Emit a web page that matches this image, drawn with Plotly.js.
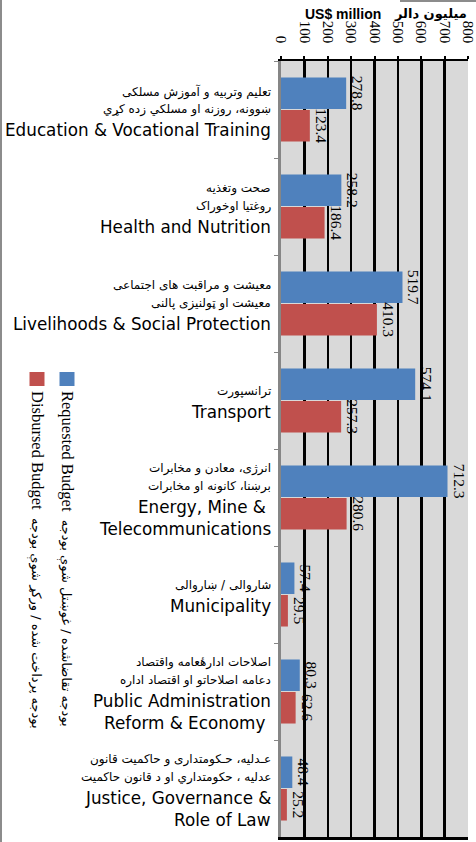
<!DOCTYPE html>
<html><head><meta charset="utf-8">
<script src="https://cdn.plot.ly/plotly-3.0.1.min.js"></script>
<style>html,body{margin:0;padding:0;background:#fff}#chart{width:476px;height:842px}</style>
</head><body><div id="chart"></div>
<script>
// ---- data ----
var categories = ["Education", "Health", "Livelihoods", "Transport", "Energy", "Municipality", "PublicAdmin", "Justice"];
var requested = [278.8, 258.2, 519.7, 574.1, 712.3, 57.4, 80.3, 48.4];
var disbursed = [123.4, 186.4, 410.3, 257.3, 280.6, 29.5, 62.6, 25.2];
var faLines = [
  ["تعلیم وتربیه و آموزش مسلکی", "ښوونه، روزنه او مسلکي زده کړي"],
  ["صحت وتغذیه", "روغتیا اوخوراک"],
  ["معیشت و مراقبت های اجتماعی", "معیشت او ټولنیزی پالنی"],
  ["ترانسپورت"],
  ["انرژی، معادن و مخابرات", "برښنا، کانونه او مخابرات"],
  ["شاروالی / ښاروالی"],
  ["اصلاحات ادارهٔعامه واقتصاد", "دعامه اصلاحاتو او اقتصاد اداره"],
  ["عـدلیه، حـکومتداری و حاکمیت قانون", "عدلیه ، حکومتداري او د قانون حاکمیت"]
];
var enLines = [
  ["Education & Vocational Training"],
  ["Health and Nutrition"],
  ["Livelihoods & Social Protection"],
  ["Transport"],
  ["Energy, Mine & ", "Telecommunications"],
  ["Municipality"],
  ["Public Administration", "Reform & Economy "],
  ["Justice, Governance &", "Role of Law"]
];
var seriesNames = ["Requested Budget", "Disbursed Budget"];
var seriesNamesFa = ["بودجه تقاضاشده / غوښتل شوې بودجه", "بودجه پرداخت شده / ورکړ شوې بودجه"];
var axisTitleEn = "US$ million";
var axisTitleFa = "میلیون دالر";
var colors = ["#4f81bd", "#c0504d"];

var W = 476, H = 842;
var mL = 281, mR = 8, mT = 61, mB = 5;
var pw = W - mL - mR, ph = H - mT - mB;
function px2x(p){ return (p - mL) / pw; }
function py2y(p){ return 1 - (p - mT) / ph; }

var serif = "Liberation Serif, Times New Roman, serif";
var sans = "DejaVu Sans, Verdana, sans-serif";

function barTrace(vals, i){
  return {
    type: "bar", orientation: "h",
    y: categories, x: vals, name: seriesNames[i],
    marker: {color: colors[i]},
    text: vals.map(function(v){ return v.toFixed(1); }),
    textposition: "outside", textangle: 90, constraintext: "none", cliponaxis: false,
    textfont: {family: serif, size: 15.5, color: "#000"},
    hoverinfo: "none", showlegend: false
  };
}
var data = [barTrace(requested, 0), barTrace(disbursed, 1)];

var annotations = [];
// category labels
categories.forEach(function(c, i){
  var lines = [];
  faLines[i].forEach(function(t){ lines.push({t: t, h: 18, f: {family: sans, size: 12, color: "#000"}}); });
  enLines[i].forEach(function(t){ lines.push({t: t, h: 22, f: {family: sans, size: 16.8, color: "#000"}}); });
  var total = lines.reduce(function(s, l){ return s + l.h; }, 0);
  var cur = -total / 2;
  lines.forEach(function(l){
    var center = cur + l.h / 2;
    annotations.push({
      xref: "paper", yref: "y", x: px2x(273), y: c, xanchor: "right", yanchor: "middle",
      text: l.t, showarrow: false, font: l.f, yshift: -(center + 2)
    });
    cur += l.h;
  });
});
// axis title
annotations.push({xref: "paper", yref: "paper", x: px2x(303), y: py2y(14), xanchor: "left", yanchor: "middle",
  text: "<b>" + axisTitleEn + "</b>", showarrow: false, font: {family: "Liberation Sans, Arial, sans-serif", size: 14, color: "#000"}});
annotations.push({xref: "paper", yref: "paper", x: px2x(469), y: py2y(14), xanchor: "right", yanchor: "middle",
  text: "<b>" + axisTitleFa + "</b>", showarrow: false, font: {family: sans, size: 13, color: "#000"}});
// legend (rotated)
var legX = [67, 37];
seriesNames.forEach(function(n, i){
  annotations.push({xref: "paper", yref: "paper", x: px2x(legX[i]), y: py2y(389), xanchor: "center", yanchor: "top",
    textangle: 90, showarrow: false,
    text: n + '  <span style="font-family:DejaVu Sans;font-size:13px">' + seriesNamesFa[i] + '</span>',
    font: {family: serif, size: 16.5, color: "#000"}});
});
var shapes = [];
seriesNames.forEach(function(n, i){
  shapes.push({type: "rect", xref: "paper", yref: "paper",
    x0: px2x(legX[i] - 7.5), x1: px2x(legX[i] + 7.5), y0: py2y(372), y1: py2y(386),
    fillcolor: colors[i], line: {width: 0}});
});
// outer frame bits
shapes.push({type: "line", xref: "paper", yref: "paper", x0: px2x(1), x1: px2x(1), y0: py2y(0), y1: py2y(H), line: {color: "#8c8c8c", width: 2}});
shapes.push({type: "line", xref: "paper", yref: "paper", x0: px2x(400), x1: px2x(W), y0: py2y(1), y1: py2y(1), line: {color: "#8c8c8c", width: 2}});

var layout = {
  width: W, height: H,
  margin: {l: mL, r: mR, t: mT, b: mB, pad: 0},
  paper_bgcolor: "#fff", plot_bgcolor: "#d9d9d9",
  barmode: "group", bargap: 0.33, bargroupgap: 0.03,
  showlegend: false,
  xaxis: {
    side: "top", range: [0, 800], tickmode: "linear", tick0: 0, dtick: 100,
    tickangle: 90, tickfont: {family: serif, size: 15, color: "#000"},
    ticklabeloverflow: "allow",
    showgrid: true, gridcolor: "#000", gridwidth: 2.5, zeroline: false,
    showline: true, linecolor: "#000", linewidth: 2.5, mirror: true,
    ticks: "outside", ticklen: 3, tickcolor: "#000", tickwidth: 2, ticklabelstandoff: 7
  },
  yaxis: {
    type: "category", categoryorder: "array", categoryarray: categories, autorange: "reversed",
    showticklabels: false, showgrid: false, zeroline: false,
    showline: true, linecolor: "#868686", linewidth: 3,
    ticks: "outside", tickson: "boundaries", ticklen: 4, tickcolor: "#868686", tickwidth: 1
  },
  annotations: annotations, shapes: shapes
};
Plotly.newPlot("chart", data, layout, {displayModeBar: false, staticPlot: true});
</script>
</body></html>
